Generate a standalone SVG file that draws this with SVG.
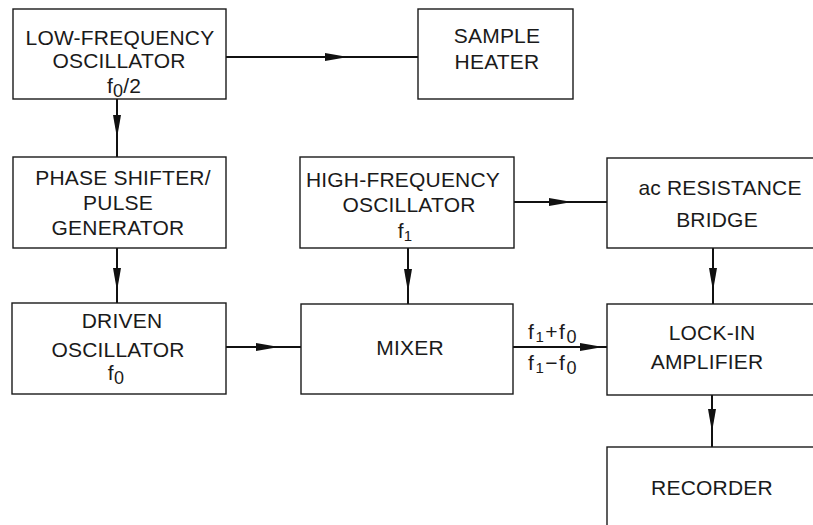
<svg xmlns="http://www.w3.org/2000/svg" width="813" height="525" viewBox="0 0 813 525">
<style>
.box{fill:none;stroke:#1a1a1a;stroke-width:1.4}
.t{font-family:"Liberation Sans",Arial,sans-serif;font-size:21px;fill:#1a1a1a;text-anchor:middle;letter-spacing:0.2px}
.s{font-size:15px}
.z{font-size:18px}
.c{fill:none;stroke:#111;stroke-width:2;marker-mid:url(#ah)}
</style>
<defs>
<marker id="ah" viewBox="-24 -5 25 10" refX="0" refY="0" markerWidth="25" markerHeight="10" orient="auto" markerUnits="userSpaceOnUse">
<path d="M-23,-4 L0,0 L-23,4 Z" fill="#111"/>
</marker>
</defs>
<rect width="813" height="525" fill="#fff"/>
<g id="connectors">
<path class="c" d="M226,57 L348,57 L418,57"/>
<path class="c" d="M117,99 L117,138 L117,157"/>
<path class="c" d="M117,248 L117,291 L117,303"/>
<path class="c" d="M226,347 L279,347 L301,347"/>
<path class="c" d="M408,248 L408,292 L408,304"/>
<path class="c" d="M514,202 L572,202 L607,202"/>
<path class="c" d="M513,347 L603,347 L607,347"/>
<path class="c" d="M713,248 L713,291 L713,304"/>
<path class="c" d="M712,395 L712,432 L712,447"/>
<text class="t" x="553" y="339" style="letter-spacing:1.5px"><tspan>f</tspan><tspan class="s" dy="3">1</tspan><tspan dy="-3">+f</tspan><tspan class="z" dy="4">0</tspan></text>
<text class="t" x="553" y="370" style="letter-spacing:1.5px"><tspan>f</tspan><tspan class="s" dy="3">1</tspan><tspan dy="-3">−f</tspan><tspan class="z" dy="4">0</tspan></text>
</g>
<g id="lfo">
<rect class="box" x="13" y="9" width="213" height="90"/>
<text class="t" x="120" y="45">LOW-FREQUENCY</text>
<text class="t" x="119" y="68">OSCILLATOR</text>
<text class="t" x="124" y="93"><tspan>f</tspan><tspan class="z" dy="4">0</tspan><tspan dy="-4">/2</tspan></text>
</g>
<g id="heater">
<rect class="box" x="418" y="9" width="155" height="90"/>
<text class="t" x="497" y="43">SAMPLE</text>
<text class="t" x="497" y="69">HEATER</text>
</g>
<g id="phase">
<rect class="box" x="13" y="157" width="213" height="91"/>
<text class="t" x="123" y="185">PHASE SHIFTER/</text>
<text class="t" x="118" y="210">PULSE</text>
<text class="t" x="118" y="235">GENERATOR</text>
</g>
<g id="hfo">
<rect class="box" x="300" y="157" width="214" height="91"/>
<text class="t" x="403" y="187">HIGH-FREQUENCY</text>
<text class="t" x="409" y="212">OSCILLATOR</text>
<text class="t" x="405" y="238"><tspan>f</tspan><tspan class="s" dy="3">1</tspan></text>
</g>
<g id="bridge">
<rect class="box" x="607" y="158" width="225" height="90"/>
<text class="t" x="720" y="195">ac RESISTANCE</text>
<text class="t" x="717" y="227">BRIDGE</text>
</g>
<g id="driven">
<rect class="box" x="12" y="303" width="214" height="91"/>
<text class="t" x="122" y="328">DRIVEN</text>
<text class="t" x="118" y="357">OSCILLATOR</text>
<text class="t" x="116" y="380"><tspan>f</tspan><tspan class="z" dy="4">0</tspan></text>
</g>
<g id="mixer">
<rect class="box" x="301" y="304" width="212" height="90"/>
<text class="t" x="410" y="355">MIXER</text>
</g>
<g id="lockin">
<rect class="box" x="607" y="304" width="225" height="91"/>
<text class="t" x="712" y="340">LOCK-IN</text>
<text class="t" x="707" y="369">AMPLIFIER</text>
</g>
<g id="recorder">
<rect class="box" x="607" y="447" width="225" height="100"/>
<text class="t" x="712" y="495">RECORDER</text>
</g>
</svg>
